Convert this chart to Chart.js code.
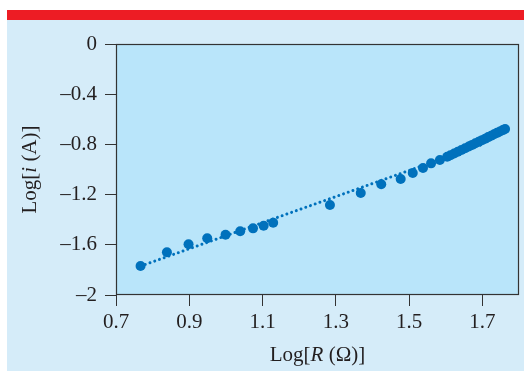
<!DOCTYPE html>
<html>
<head>
<meta charset="utf-8">
<script src="https://cdn.jsdelivr.net/npm/chart.js@4"></script>
<style>
    html, body { margin: 0; padding: 0; background: #ffffff; }
</style>
</head>
<body>
<canvas id="chart" width="524" height="371"></canvas>
<script>
// measured points, Log R vs Log i
var logR = [0.767, 0.839, 0.898, 0.949, 0.999, 1.039, 1.074, 1.103, 1.129, 1.284, 1.368, 1.424, 1.477, 1.510, 1.538,
    1.560, 1.584, 1.604, 1.613, 1.623, 1.633, 1.643, 1.653, 1.663, 1.672, 1.681, 1.690, 1.699, 1.708, 1.716,
    1.724, 1.732, 1.740, 1.748, 1.756, 1.762];
var logI = [-1.769, -1.660, -1.596, -1.548, -1.520, -1.492, -1.469, -1.448, -1.424, -1.283, -1.187, -1.118, -1.076, -1.028, -0.988,
    -0.951, -0.924, -0.898, -0.886, -0.872, -0.858, -0.845, -0.831, -0.817, -0.804, -0.791, -0.779, -0.766, -0.754, -0.742,
    -0.731, -0.719, -0.708, -0.697, -0.686, -0.677];

// dotted trend line end points
var fitX = [0.767, 1.70];
var fitY = [-1.77, -0.80];

var xTicks = [0.7, 0.9, 1.1, 1.3, 1.5, 1.7];
var yTicks = [0, -0.4, -0.8, -1.2, -1.6, -2];

var xTitle = [['Log[', ''], ['R', 'italic'], [' (\u03A9)]', '']];
var yTitle = [['Log[', ''], ['i', 'italic'], [' (A)]', '']];

var serif = '"Liberation Serif", "Times New Roman", serif';
var blue = '#0071bc';

function fmt(v) {
    return (Math.round(v * 10) / 10).toString().replace('-', '\u2013');
}

function toPoints(xs, ys) {
    let pts = [];
    for (let i = 0; i < xs.length; i++) {
        pts.push({x: xs[i], y: ys[i]});
    }
    return pts;
}

function drawRich(ctx, parts, size) {
    let widths = [];
    let total = 0;
    for (let i = 0; i < parts.length; i++) {
        ctx.font = parts[i][1] + ' ' + size + 'px ' + serif;
        widths.push(ctx.measureText(parts[i][0]).width);
        total += widths[i];
    }
    let x = -total / 2;
    for (let i = 0; i < parts.length; i++) {
        ctx.font = parts[i][1] + ' ' + size + 'px ' + serif;
        ctx.fillText(parts[i][0], x, 0);
        x += widths[i];
    }
}

var backdrop = {
    id: 'backdrop',
    beforeDraw: function (chart) {
        let ctx = chart.ctx, a = chart.chartArea;
        ctx.save();
        ctx.fillStyle = '#ffffff';
        ctx.fillRect(0, 0, 524, 371);
        ctx.fillStyle = '#ed1c24';
        ctx.fillRect(7, 10, 517, 10);
        ctx.fillStyle = '#d5ecf9';
        ctx.fillRect(7, 20, 517, 351);
        ctx.fillStyle = '#b9e5fa';
        ctx.fillRect(a.left, a.top, a.right - a.left, a.bottom - a.top);
        ctx.restore();
    },
    afterDraw: function (chart) {
        let ctx = chart.ctx, a = chart.chartArea;
        ctx.save();
        ctx.strokeStyle = '#333333';
        ctx.lineWidth = 1.2;
        ctx.strokeRect(a.left + 0.5, a.top + 0.5, a.right - a.left - 1, a.bottom - a.top - 1);

        ctx.fillStyle = '#231f20';
        ctx.textBaseline = 'middle';
        ctx.save();
        ctx.translate((a.left + a.right) / 2, 355);
        drawRich(ctx, xTitle, 21);
        ctx.restore();

        ctx.save();
        ctx.translate(30, (a.top + a.bottom) / 2);
        ctx.rotate(-Math.PI / 2);
        drawRich(ctx, yTitle, 21);
        ctx.restore();
        ctx.restore();
    }
};

var chart = new Chart(document.getElementById('chart'), {
    type: 'scatter',
    data: {
        datasets: [{
            type: 'line',
            data: toPoints(fitX, fitY),
            borderColor: blue,
            borderWidth: 3,
            borderDash: [0.01, 5],
            borderCapStyle: 'round',
            pointRadius: 0,
            fill: false,
            order: 2
        }, {
            data: toPoints(logR, logI),
            backgroundColor: blue,
            borderColor: blue,
            borderWidth: 0,
            pointRadius: 5,
            order: 1
        }]
    },
    options: {
        responsive: false,
        animation: false,
        layout: {padding: {left: 0, top: 44, right: 2, bottom: 0}},
        plugins: {
            legend: {display: false},
            tooltip: {enabled: false}
        },
        scales: {
            x: {
                type: 'linear',
                min: 0.7,
                max: 1.8,
                afterBuildTicks: function (s) {
                    s.ticks = xTicks.map(function (v) { return {value: v}; });
                },
                afterFit: function (s) { s.height = 76; },
                border: {display: false},
                grid: {drawOnChartArea: false, drawTicks: true, tickLength: 11, color: '#333333'},
                ticks: {
                    padding: 4,
                    maxRotation: 0,
                    color: '#231f20',
                    font: {family: serif, size: 21},
                    callback: function (v) { return fmt(v); }
                }
            },
            y: {
                type: 'linear',
                min: -2,
                max: 0,
                afterBuildTicks: function (s) {
                    s.ticks = yTicks.map(function (v) { return {value: v}; });
                },
                afterFit: function (s) { s.width = 116; },
                border: {display: false},
                grid: {drawOnChartArea: false, drawTicks: true, tickLength: 11, color: '#333333'},
                ticks: {
                    padding: 8,
                    color: '#231f20',
                    font: {family: serif, size: 21},
                    callback: function (v) { return fmt(v); }
                }
            }
        }
    },
    plugins: [backdrop]
});
</script>
</body>
</html>
